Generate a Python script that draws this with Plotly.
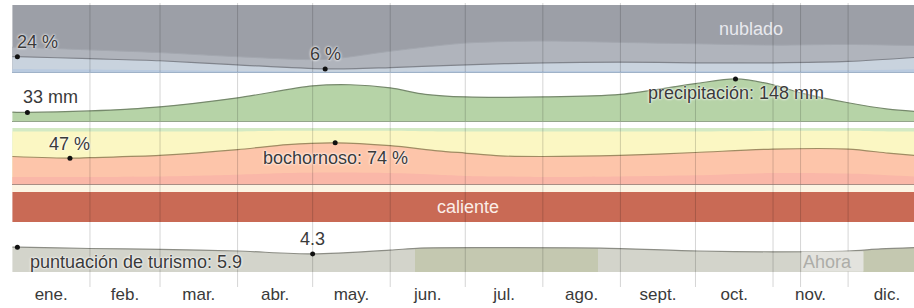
import plotly.graph_objects as go

# ---------------- data ----------------
months = ["ene.", "feb.", "mar.", "abr.", "may.", "jun.", "jul.", "ago.", "sept.", "oct.", "nov.", "dic."]
month_lengths = [31, 28, 31, 30, 31, 30, 31, 31, 30, 31, 30, 31]
now_day = 315

# cloud cover (% of time, cumulative from the bottom)
cloud_days = [0, 2, 31, 59, 90, 125, 151, 181, 212, 243, 273, 304, 334, 365]
overcast_pct = [100, 100, 100, 100, 100, 100, 100, 100, 100, 100, 100, 100, 100, 100]
mostly_cloudy_pct = [38, 38, 34, 30, 24, 20, 32, 44, 47, 45, 43, 41, 42, 40]
clear_share_pct = [24, 24, 21, 18, 12, 6, 8, 12, 15, 16, 15, 15, 17, 24]
clear_pct = [6, 6, 5, 4, 3, 2, 2, 3, 3, 3, 3, 3, 4, 6]
cloud_mark_days = [2, 125]
cloud_mark_vals = [24, 6]

# precipitation (mm)
precip_days = [0, 6, 31, 59, 90, 120, 135, 151, 165, 181, 212, 243, 273, 289, 304, 315, 334, 350, 365]
precip_mm = [34, 33, 38, 52, 83, 124, 128, 117, 95, 86, 86, 95, 132, 148, 128, 100, 66, 44, 34]
precip_mark_days = [6, 289]
precip_mark_vals = [33, 148]

# humidity comfort (% of time, cumulative from the bottom)
hum_days = [0, 23, 31, 59, 90, 110, 129, 151, 170, 181, 195, 212, 243, 273, 304, 334, 350, 365]
comfortable_pct = [100] * len(hum_days)
humid_pct = [94, 94, 94, 94, 94, 95, 95, 95, 94, 94, 94, 94, 94, 94, 95, 95, 94, 94]
muggy_pct = [50, 47, 48, 52, 62, 71, 74, 69, 60, 56, 51, 50, 52, 57, 63, 63, 56, 50]
oppressive_pct = [14, 14, 14, 15, 18, 21, 22, 21, 18, 16, 15, 14, 15, 17, 21, 20, 17, 14]
hum_mark_days = [23, 129]
hum_mark_vals = [47, 74]

# temperature band
temp_days = [0, 365]
temp_band = [1, 1]
temp_label = "caliente"

# tourism score (0-10)
tour_days = [0, 2, 31, 59, 90, 120, 151, 163, 195, 235, 274, 304, 334, 347, 365]
tour_score = [5.9, 5.9, 5.6, 5.4, 5.0, 4.3, 5.2, 5.7, 5.8, 5.7, 5.0, 4.8, 5.0, 5.5, 5.9]
tour_mark_days = [2, 120]
tour_mark_vals = [5.9, 4.3]
best_periods = [(161, 234), (340, 365)]

# ---------------- layout helpers ----------------
W, H = 914, 308
def py(pix):
    return 1 - pix / H

month_starts = [sum(month_lengths[:i]) for i in range(12)]
month_mids = [s + l / 2 for s, l in zip(month_starts, month_lengths)]

FONT = "Liberation Sans, Arial, sans-serif"
HALO = "0px 0px 2px white, 0px 0px 3px white"

fig = go.Figure()

def area(x, y, color, yaxis, line_color=None, lw=0):
    fig.add_trace(go.Scatter(
        x=x, y=y, xaxis="x", yaxis=yaxis, mode="lines", fill="tozeroy",
        fillcolor=color, line=dict(color=line_color or color, width=lw, shape="spline", smoothing=0.8),
        hoverinfo="skip", showlegend=False))

def marks(x, y, yaxis):
    fig.add_trace(go.Scatter(x=x, y=y, xaxis="x", yaxis=yaxis, mode="markers",
                             marker=dict(color="#111", size=5), hoverinfo="skip", showlegend=False))

# cloud panel
area(cloud_days, overcast_pct, "#9c9fa7", "y")
area(cloud_days, mostly_cloudy_pct, "#b0b4bc", "y", "#a3a7af", 1)
area(cloud_days, clear_share_pct, "#c9d3de", "y", "#80848c", 1.2)
area(cloud_days, clear_pct, "#b9cadf", "y")
marks(cloud_mark_days, cloud_mark_vals, "y")

# precipitation panel
area(precip_days, precip_mm, "#b6d3a7", "y2", "#76896c", 1.2)
marks(precip_mark_days, precip_mark_vals, "y2")

# humidity panel
area(hum_days, comfortable_pct, "#d3eac4", "y3")
area(hum_days, humid_pct, "#fbf7c3", "y3")
area(hum_days, muggy_pct, "#fdc5aa", "y3", "#a08c63", 1.2)
area(hum_days, oppressive_pct, "#fab7a8", "y3")
marks(hum_mark_days, hum_mark_vals, "y3")

# temperature band
area(temp_days, temp_band, "#c96a55", "y4")

# tourism panel with best-period shading via horizontal gradient
light, dark = "#d3d4cb", "#c4c8b0"
stops = [[0, light]]
for a, b in best_periods:
    pa, pb = a / 365, min(b / 365, 1)
    stops += [[pa, light], [pa + 1e-4, dark], [max(pb - 1e-4, pa + 2e-4), dark]]
    if pb < 1:
        stops += [[pb, light]]
if stops[-1][0] < 1:
    stops.append([1, stops[-1][1]])
fig.add_trace(go.Scatter(
    x=tour_days, y=tour_score, xaxis="x", yaxis="y5", mode="lines", fill="tozeroy",
    fillgradient=dict(type="horizontal", start=0, stop=365, colorscale=stops),
    line=dict(color="#8c8d85", width=1.2, shape="spline", smoothing=0.8),
    hoverinfo="skip", showlegend=False))
marks(tour_mark_days, tour_mark_vals, "y5")

# ---------------- annotations ----------------
def label(text, x, y, yref, xanchor="center", yanchor="bottom", xshift=0, yshift=0, color="#3a3a3a", size=18, shadow=HALO):
    fig.add_annotation(text=text, x=x, y=y, xref="x", yref=yref, showarrow=False,
                       xanchor=xanchor, yanchor=yanchor, xshift=xshift, yshift=yshift,
                       font=dict(family=FONT, size=size, color=color, shadow=shadow))

label(f"{cloud_mark_vals[0]} %", cloud_mark_days[0], cloud_mark_vals[0], "y", "left", "bottom", -2, 3)
label(f"{cloud_mark_vals[1]} %", cloud_mark_days[1], cloud_mark_vals[1], "y", "center", "bottom", 0, 3)
label("nublado", 295, 100, "y", "center", "top", 0, -12, color="#e8e9ee", shadow="none")

label(f"{precip_mark_vals[0]} mm", precip_mark_days[0], precip_mark_vals[0], "y2", "left", "bottom", -6, 3)
label(f"precipitación: {precip_mark_vals[1]} mm", precip_mark_days[1], precip_mark_vals[1], "y2", "center", "top", 0, -2)

label(f"{hum_mark_vals[0]} %", hum_mark_days[0], hum_mark_vals[0], "y3", "center", "bottom", 0, 2)
label(f"bochornoso: {hum_mark_vals[1]} %", hum_mark_days[1], hum_mark_vals[1], "y3", "center", "top", 0, -3)

label(temp_label, 182, 0.5, "y4", "center", "middle", 0, 0, color="#fbeee8", shadow="none")

label(f"{tour_mark_vals[1]}", tour_mark_days[1], tour_mark_vals[1], "y5", "center", "bottom", 0, 3)
label(f"puntuación de turismo: {tour_mark_vals[0]}", tour_mark_days[0], tour_mark_vals[0], "y5", "left", "top", 11, -3)

fig.add_annotation(text="Ahora", x=now_day, y=0, xref="x", yref="y5", showarrow=False,
                   xanchor="left", yanchor="bottom", align="left", width=59, height=17,
                   bgcolor="#e3e3de", borderpad=1, yshift=0,
                   font=dict(family=FONT, size=18, color="#adada8"))

# ---------------- grid lines ----------------
shapes = []
for d in month_starts[1:] + [now_day]:
    shapes.append(dict(type="line", xref="x", yref="paper", x0=d, x1=d, y0=py(287), y1=py(3),
                       line=dict(color="rgba(0,0,0,0.17)", width=1), layer="above"))
# panel baselines and strip between humidity and temperature
shapes.append(dict(type="rect", xref="paper", yref="paper", x0=0, x1=1, y0=py(192), y1=py(185),
                   fillcolor="#fcf4e3", line=dict(width=0), layer="below"))
shapes.append(dict(type="line", xref="paper", yref="y", x0=0, x1=1, y0=0, y1=0,
                   line=dict(color="#9fb2c8", width=2)))
shapes.append(dict(type="line", xref="paper", yref="y2", x0=0, x1=1, y0=0, y1=0,
                   line=dict(color="#93a58a", width=2)))
shapes.append(dict(type="line", xref="paper", yref="y3", x0=0, x1=1, y0=0, y1=0,
                   line=dict(color="#8e7f78", width=1.5)))

fig.update_layout(
    width=W, height=H, margin=dict(l=12, r=0, t=0, b=0),
    paper_bgcolor="white", plot_bgcolor="rgba(0,0,0,0)",
    font=dict(family=FONT, size=17, color="#333"),
    shapes=shapes,
    xaxis=dict(range=[-0.16, 360.34], anchor="y5", showgrid=False, zeroline=False, showline=False,
               ticks="", tickvals=month_mids, ticktext=months, ticklabelstandoff=10,
               tickfont=dict(family=FONT, size=17, color="#3a3a3a"), fixedrange=True, automargin=False),
    yaxis=dict(domain=[py(73), py(5)], range=[0, 100], visible=False, fixedrange=True),
    yaxis2=dict(domain=[py(122), py(76)], range=[0, 158], visible=False, fixedrange=True),
    yaxis3=dict(domain=[py(185), py(128)], range=[0, 100], visible=False, fixedrange=True),
    yaxis4=dict(domain=[py(222), py(192)], range=[0, 1], visible=False, fixedrange=True),
    yaxis5=dict(domain=[py(272), py(230)], range=[0, 10], visible=False, fixedrange=True),
    showlegend=False,
)

fig.write_html("out.html", config={"displayModeBar": False},
               post_script="document.body.style.margin='0';document.body.style.overflow='hidden';")
